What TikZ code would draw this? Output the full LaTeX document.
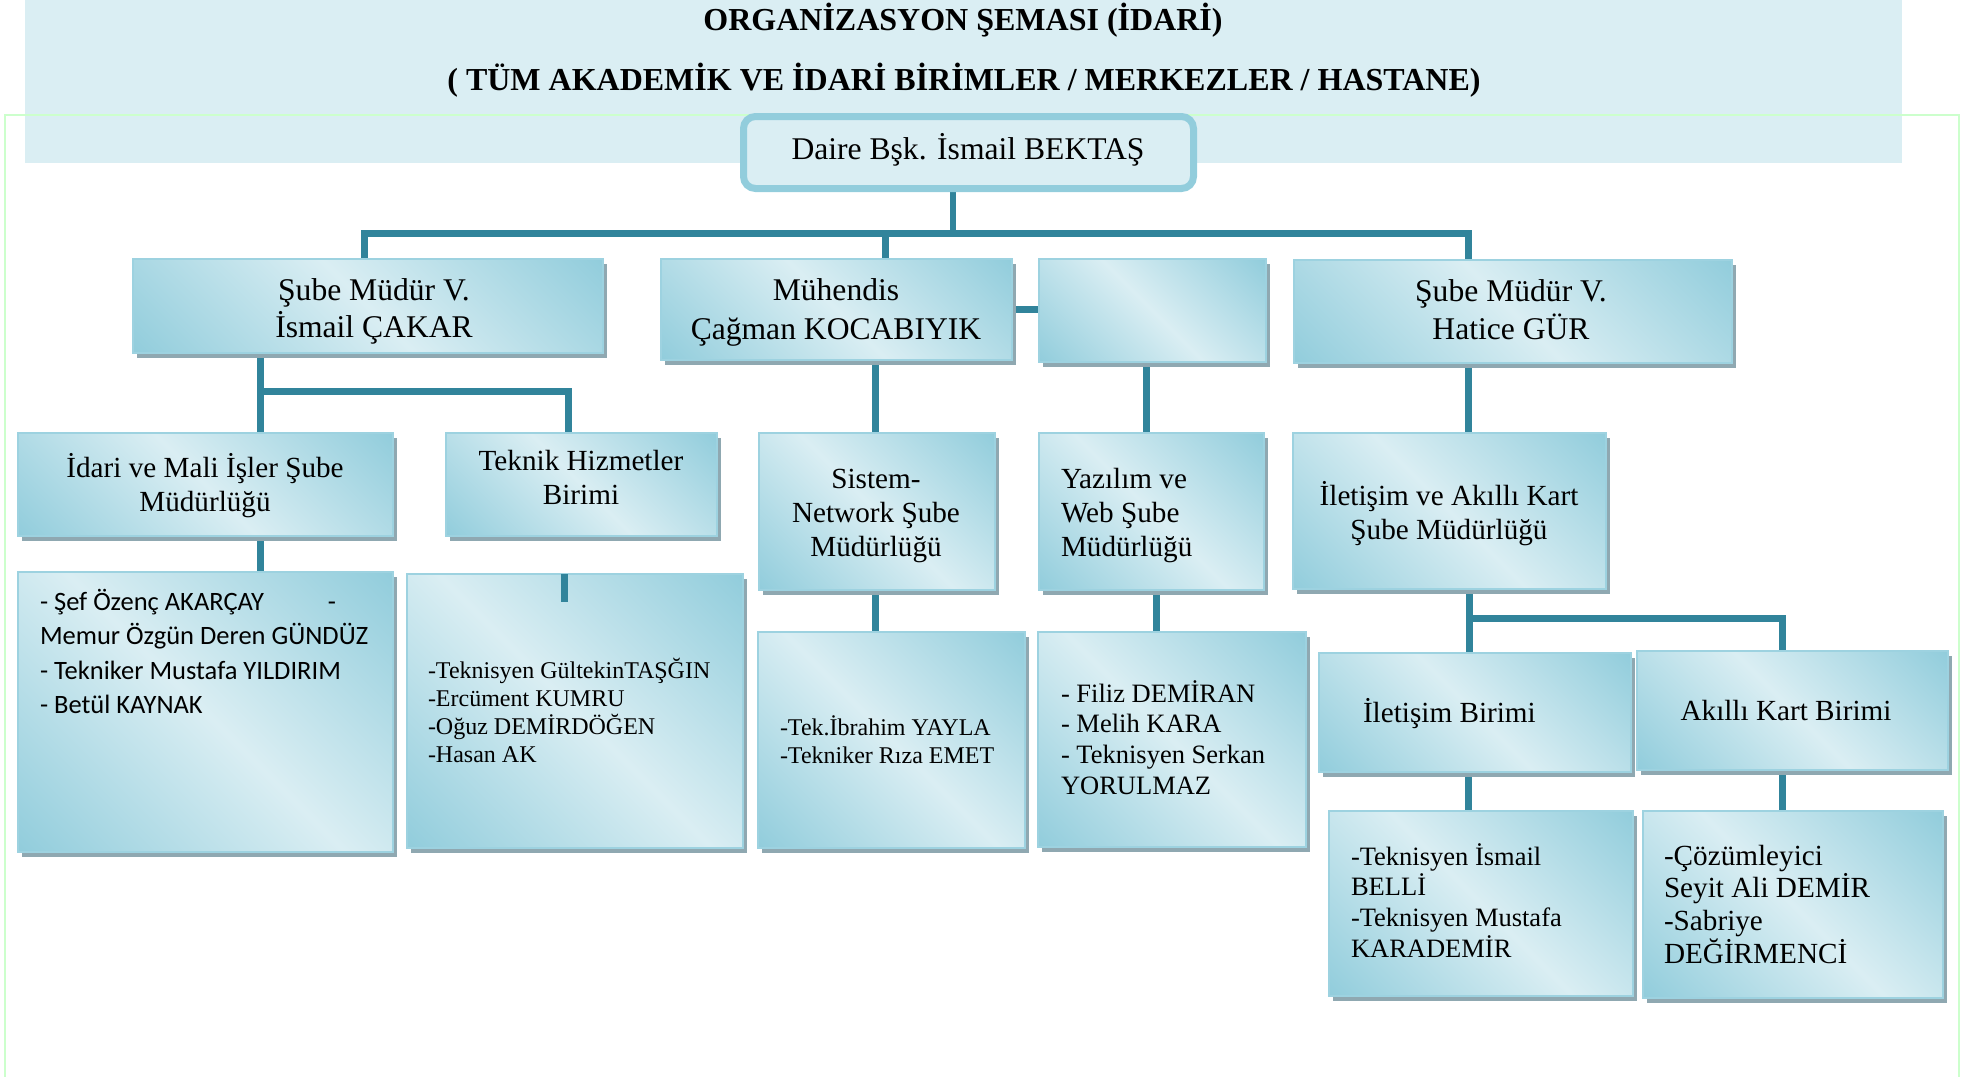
\documentclass[tikz,border=0pt]{standalone}
\usepackage{fontspec}
\setmainfont{Liberation Serif}
\newfontfamily\calibri{Carlito}
\usetikzlibrary{shadows,fit}

\definecolor{boxlight}{HTML}{DAEEF3}
\definecolor{boxdark}{HTML}{92CDDC}
\definecolor{boxedge}{HTML}{9DD2E0}
\definecolor{shadowgray}{HTML}{8FA8B1}
\definecolor{linkteal}{HTML}{31849B}
\definecolor{bandblue}{HTML}{DAEEF3}
\definecolor{framegreen}{HTML}{CCFFCC}

% light band along the top-left / bottom-right diagonal, darker corners
\pgfdeclarehorizontalshading{diagband}{100bp}{color(0bp)=(boxdark); color(15bp)=(boxdark); color(50bp)=(boxlight); color(85bp)=(boxdark); color(100bp)=(boxdark)}

% stacked lines whose reference point is the first baseline
\newcommand{\Lblk}[1]{\vtop{\halign{##\hfil\cr#1\crcr}}}
\newcommand{\Cblk}[1]{\vtop{\halign{\hfil##\hfil\cr#1\crcr}}}

\tikzset{
  unitbox/.style={rectangle, inner sep=0pt, outer sep=0pt, draw=boxedge, line width=1.2pt,
    shade, shading=diagband, shading angle=45,
    drop shadow={shadow xshift=1.75pt, shadow yshift=-2.5pt, fill=shadowgray, opacity=1, draw=none}},
  headbox/.style={rectangle, inner sep=0pt, outer sep=0pt, draw=boxdark, line width=3.5pt,
    fill=boxlight, rounded corners=6pt},
  linkbar/.style={draw=linkteal, line width=3.5pt},
  txt/.style={inner sep=0pt, outer sep=0pt},
  ftitle/.style={font=\bfseries\fontsize{16pt}{19pt}\selectfont},
  fbig/.style={font=\fontsize{15.8pt}{18.8pt}\selectfont},
  fmid/.style={font=\fontsize{14.6pt}{17pt}\selectfont},
  fsml/.style={font=\fontsize{13.25pt}{15.35pt}\selectfont},
  fxsml/.style={font=\fontsize{12pt}{14.1pt}\selectfont},
}

\begin{document}
\begin{tikzpicture}[x=0.5pt, y=-0.5pt]
\useasboundingbox (0,0) rectangle (1972,1077);

% title band and page frame
\fill[bandblue] (25,0) rectangle (1902,163);
\draw[framegreen, line width=1.25pt] (5,1077) -- (5,115) -- (1959,115) -- (1959,1077);

% box outlines
\path
  (743.5,116.5) coordinate (r1) (1193.5,188.5) coordinate (r2)
  (133,259) coordinate (a1) (603,353) coordinate (a2)
  (661,259) coordinate (b1) (1012,360) coordinate (b2)
  (1039,259) coordinate (c1) (1266,362) coordinate (c2)
  (1294,260) coordinate (d1) (1732,363) coordinate (d2)
  (18,433) coordinate (e1) (393,536) coordinate (e2)
  (446,433) coordinate (f1) (717,536) coordinate (f2)
  (759,433) coordinate (g1) (995,590) coordinate (g2)
  (1039,433) coordinate (h1) (1264,590) coordinate (h2)
  (1293,433) coordinate (i1) (1606,589) coordinate (i2)
  (18,572) coordinate (j1) (393,852) coordinate (j2)
  (407,574) coordinate (k1) (743,848) coordinate (k2)
  (758,632) coordinate (l1) (1025,848) coordinate (l2)
  (1038,632) coordinate (m1) (1306,847) coordinate (m2)
  (1319,653) coordinate (n1) (1631,772) coordinate (n2)
  (1637,651) coordinate (o1) (1948,770) coordinate (o2)
  (1329,811) coordinate (p1) (1633,996) coordinate (p2)
  (1643,811) coordinate (q1) (1943,998) coordinate (q2);

\coordinate (bus) at (953,233);
\coordinate (brA) at (260,391);
\coordinate (brB) at (1469,618);

% invisible placeholders so that connectors can refer to the boxes first
\begin{scope}[every node/.style={inner sep=0pt, outer sep=0pt}]
\node[fit=(r1)(r2)] (root) {};
\node[fit=(a1)(a2)] (sm1) {};
\node[fit=(b1)(b2)] (muh) {};
\node[fit=(c1)(c2)] (blank) {};
\node[fit=(d1)(d2)] (sm2) {};
\node[fit=(e1)(e2)] (idari) {};
\node[fit=(f1)(f2)] (teknik) {};
\node[fit=(g1)(g2)] (sistem) {};
\node[fit=(h1)(h2)] (yazilim) {};
\node[fit=(i1)(i2)] (iak) {};
\node[fit=(j1)(j2)] (list1) {};
\node[fit=(k1)(k2)] (list2) {};
\node[fit=(l1)(l2)] (tek) {};
\node[fit=(m1)(m2)] (filiz) {};
\node[fit=(n1)(n2)] (iletisim) {};
\node[fit=(o1)(o2)] (akilli) {};
\node[fit=(p1)(p2)] (ism) {};
\node[fit=(q1)(q2)] (coz) {};
\end{scope}

% connectors
\draw[linkbar, line width=3pt] (bus |- root.south) -- (bus);
\draw[linkbar] (364,0 |- sm1.north) -- (364,0 |- bus) -- (1468,0 |- bus) -- (1468,0 |- sm2.north);
\draw[linkbar] (885.5,0 |- muh.north) -- (885.5,0 |- bus);
\draw[linkbar] (muh.east |- 0,309) -- (blank.west |- 0,309);
\draw[linkbar] (260,0 |- sm1.south) -- (260,0 |- idari.north);
\draw[linkbar] (brA) -| (568,0 |- teknik.north);
\draw[linkbar] (875,0 |- muh.south) -- (875,0 |- sistem.north);
\draw[linkbar] (1146,0 |- blank.south) -- (1146,0 |- yazilim.north);
\draw[linkbar] (1468,0 |- sm2.south) -- (1468,0 |- iak.north);
\draw[linkbar] (260,0 |- idari.south) -- (260,0 |- list1.north);
\draw[linkbar] (875,0 |- sistem.south) -- (875,0 |- tek.north);
\draw[linkbar] (1156,0 |- yazilim.south) -- (1156,0 |- filiz.north);
\draw[linkbar] (1469,0 |- iak.south) -- (1469,0 |- iletisim.north);
\draw[linkbar] (brB) -| (1782,0 |- akilli.north);
\draw[linkbar] (1468,0 |- iletisim.south) -- (1468,0 |- ism.north);
\draw[linkbar] (1782,0 |- akilli.south) -- (1782,0 |- coz.north);

% visible boxes
\node[headbox, fit=(r1)(r2)] (rootbox) {};
\foreach \u/\v/\nm in {a1/a2/sm1box, b1/b2/muhbox, c1/c2/blankbox, d1/d2/sm2box,
  e1/e2/idaribox, f1/f2/teknikbox, g1/g2/sistembox, h1/h2/yazilimbox, i1/i2/iakbox,
  j1/j2/list1box, k1/k2/list2box, l1/l2/tekbox, m1/m2/filizbox, n1/n2/iletisimbox,
  o1/o2/akillibox, p1/p2/ismbox, q1/q2/cozbox}
  \node[unitbox, fit=(\u)(\v)] (\nm) {};

% short stub at the top of the technical staff box
\draw[linkbar] (564,0 |- list2.north) -- ++(0,28);

% titles
\node[txt, ftitle, anchor=base] (title1) at (963,30) {ORGANİZASYON ŞEMASI (İDARİ)};
\node[txt, ftitle, anchor=base] (title2) at (964,90) {( TÜM AKADEMİK VE İDARİ BİRİMLER / MERKEZLER / HASTANE)};

% box texts
\node[txt, fbig, anchor=base] (roott) at (968,159) {Daire Bşk. İsmail BEKTAŞ};
\node[txt, fbig, anchor=base] (sm1t) at (374,300) {\baselineskip=18.5pt\Cblk{Şube Müdür V.\cr İsmail ÇAKAR}};
\node[txt, fbig, anchor=base] (muht) at (836,300) {\baselineskip=19.5pt\Cblk{Mühendis\cr Çağman KOCABIYIK}};
\node[txt, fbig, anchor=base] (sm2t) at (1511,301) {\baselineskip=19pt\Cblk{Şube Müdür V.\cr Hatice GÜR}};

\node[txt, fmid, anchor=base] (idarit) at (205,477) {\Cblk{İdari ve Mali İşler Şube\cr Müdürlüğü}};
\node[txt, fmid, anchor=base] (teknikt) at (581,470) {\Cblk{Teknik Hizmetler\cr Birimi}};
\node[txt, fmid, anchor=base] (sistemt) at (876,488) {\Cblk{Sistem-\cr Network Şube\cr Müdürlüğü}};
\node[txt, fmid, anchor=base west] (yazilimt) at (1061,488) {\Lblk{Yazılım ve\cr Web Şube\cr Müdürlüğü}};
\node[txt, fmid, anchor=base] (iakt) at (1449,505) {\Cblk{İletişim ve Akıllı Kart\cr Şube Müdürlüğü}};

\node[txt, anchor=base west, font=\calibri\fontsize{13.25pt}{17.3pt}\selectfont] (list1t) at (40,610)
  {\Lblk{\hbox to 148pt{- Şef Özenç AKARÇAY\hfil-}\cr Memur Özgün Deren GÜNDÜZ\cr - Tekniker Mustafa YILDIRIM\cr - Betül KAYNAK}};
\node[txt, fxsml, anchor=base west] (list2t) at (428,678)
  {\Lblk{-Teknisyen GültekinTAŞĞIN\cr -Ercüment KUMRU\cr -Oğuz DEMİRDÖĞEN\cr -Hasan AK}};
\node[txt, fxsml, anchor=base west] (tekt) at (780,735)
  {\Lblk{-Tek.İbrahim YAYLA\cr -Tekniker Rıza EMET}};
\node[txt, fsml, anchor=base west] (filizt) at (1061,702)
  {\Lblk{- Filiz DEMİRAN\cr - Melih KARA\cr - Teknisyen Serkan\cr YORULMAZ}};
\node[txt, fmid, anchor=base west] (iletisimt) at (1363,722) {İletişim Birimi};
\node[txt, fmid, anchor=base] (akillit) at (1786,720) {Akıllı Kart Birimi};
\node[txt, fsml, anchor=base west] (ismt) at (1351,865)
  {\Lblk{-Teknisyen İsmail\cr BELLİ\cr -Teknisyen Mustafa\cr KARADEMİR}};
\node[txt, fmid, anchor=base west] (cozt) at (1664,865)
  {\baselineskip=16.4pt\Lblk{-Çözümleyici\cr Seyit Ali DEMİR\cr -Sabriye\cr DEĞİRMENCİ}};
\end{tikzpicture}
\end{document}
